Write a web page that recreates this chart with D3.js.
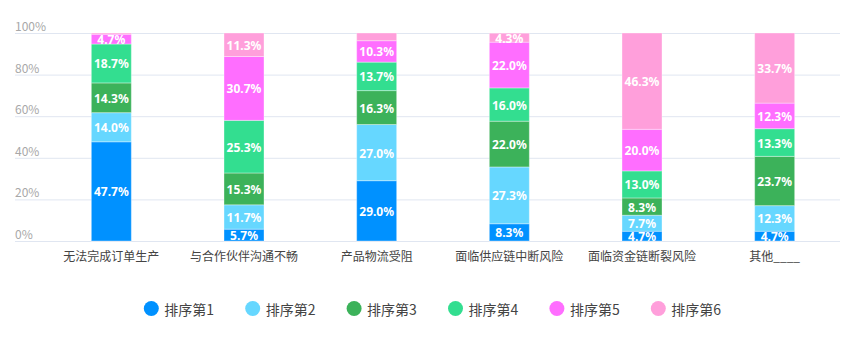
<!DOCTYPE html>
<html>
<head>
<meta charset="utf-8">
<script src="https://cdn.jsdelivr.net/npm/d3@7"></script>
<style>
  html, body { margin: 0; padding: 0; background: #fff; }
  svg { display: block; font-family: "Noto Sans CJK SC", "Noto Sans", sans-serif; }
</style>
</head>
<body>
<svg id="chart" width="856" height="345"></svg>
<script>
// Categories along the x axis
const categories = ["无法完成订单生产", "与合作伙伴沟通不畅", "产品物流受阻", "面临供应链中断风险", "面临资金链断裂风险", "其他____"];
// Series names (rank order)
const seriesNames = ["排序第1", "排序第2", "排序第3", "排序第4", "排序第5", "排序第6"];
// Percentage shares per series, one value per category
const rank1 = [47.7, 5.7, 29.0, 8.3, 4.7, 4.7];
const rank2 = [14.0, 11.7, 27.0, 27.3, 7.7, 12.3];
const rank3 = [14.3, 15.3, 16.3, 22.0, 8.3, 23.7];
const rank4 = [18.7, 25.3, 13.7, 16.0, 13.0, 13.3];
const rank5 = [4.7, 30.7, 10.3, 22.0, 20.0, 12.3];
const rank6 = [0.6, 11.3, 3.7, 4.3, 46.3, 33.7];
const yTicks = [0, 20, 40, 60, 80, 100];
const colors = ["#0091ff", "#66d7ff", "#3cb25a", "#33de90", "#ff6eff", "#ff9fdb"];

const seriesValues = [rank1, rank2, rank3, rank4, rank5, rank6];
const rows = categories.map((c, i) => {
  const r = { category: c };
  seriesNames.forEach((s, k) => { r[s] = seriesValues[k][i]; });
  return r;
});
const stacked = d3.stack().keys(seriesNames)(rows);

const svg = d3.select("#chart");
const plotLeft = 45, plotRight = 841, plotTop = 33, plotBottom = 241;

const x = d3.scaleBand().domain(categories).range([plotLeft, plotRight]).paddingInner(0).paddingOuter(0);
const y = d3.scaleLinear().domain([0, 100]).range([plotBottom, plotTop]);
const barW = 40;

// Horizontal grid lines with labels sitting above them
const grid = svg.append("g");
grid.selectAll("line").data(yTicks).join("line")
  .attr("x1", 15).attr("x2", plotRight - 1)
  .attr("y1", d => y(d) + 0.5).attr("y2", d => y(d) + 0.5)
  .attr("stroke", "#e0e6f1").attr("stroke-width", 1);
grid.selectAll("text").data(yTicks).join("text")
  .attr("x", 15).attr("y", d => y(d) - 2)
  .attr("fill", "#a8a8a8").attr("font-size", 12)
  .text(d => d + "%");

// Stacked bar segments
const layers = svg.append("g").selectAll("g").data(stacked).join("g")
  .attr("fill", (d, i) => colors[i]);
layers.selectAll("rect").data(d => d).join("rect")
  .attr("x", d => x(d.data.category) + (x.bandwidth() - barW) / 2)
  .attr("width", barW)
  .attr("y", d => y(d[1]))
  .attr("height", d => Math.max(0, y(d[0]) - y(d[1])))
  .attr("stroke", "rgba(255,255,255,0.35)")
  .attr("stroke-width", 1);

// Value labels inside segments
const labels = svg.append("g");
stacked.forEach((layer) => {
  layer.forEach(d => {
    const v = d[1] - d[0];
    if (v < 4) return;
    labels.append("text")
      .attr("x", x(d.data.category) + x.bandwidth() / 2)
      .attr("y", (y(d[0]) + y(d[1])) / 2 + 0.5)
      .attr("text-anchor", "middle")
      .attr("dominant-baseline", "central")
      .attr("fill", "#fff")
      .attr("font-size", 12)
      .attr("font-weight", "bold")
      .attr("font-family", "'Noto Sans', sans-serif")
      .text(v.toFixed(1) + "%");
  });
});

// Category axis labels
svg.append("g").selectAll("text").data(categories).join("text")
  .attr("x", d => x(d) + x.bandwidth() / 2)
  .attr("y", 255)
  .attr("text-anchor", "middle")
  .attr("dominant-baseline", "central")
  .attr("fill", "#444")
  .attr("font-size", 12)
  .text(d => d);

// Legend
const legend = svg.append("g");
const legendX0 = 151.3, legendStep = 101.4, legendY = 308.5;
seriesNames.forEach((s, i) => {
  const cx = legendX0 + i * legendStep;
  legend.append("ellipse")
    .attr("cx", cx).attr("cy", legendY)
    .attr("rx", 7.5).attr("ry", 7.5)
    .attr("fill", colors[i]);
  legend.append("text")
    .attr("x", cx + 13).attr("y", legendY)
    .attr("dominant-baseline", "central")
    .attr("fill", "#444")
    .attr("font-size", 14)
    .text(s);
});
</script>
</body>
</html>
